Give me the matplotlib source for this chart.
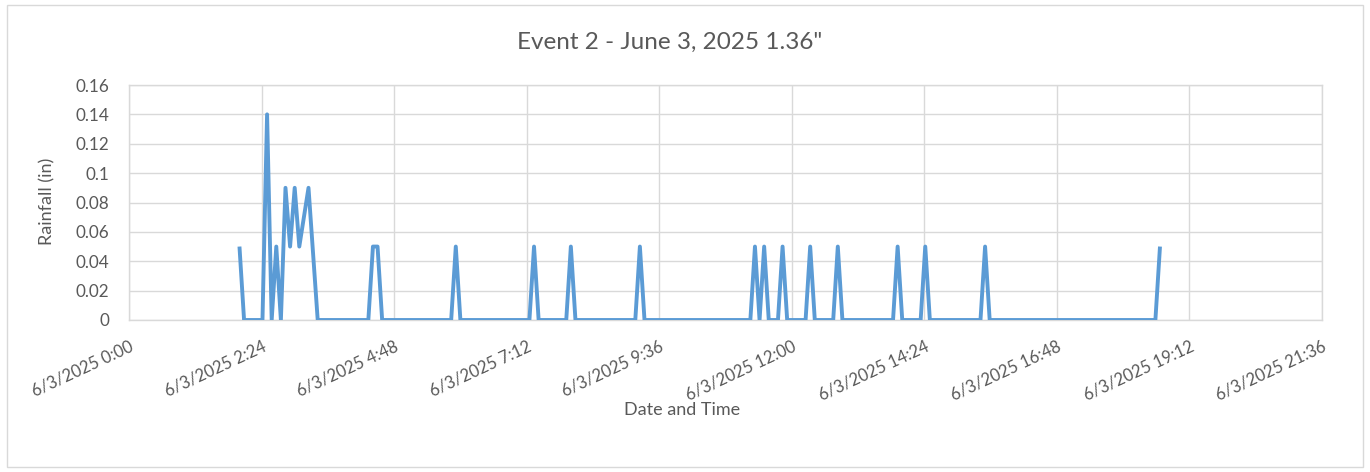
import matplotlib
matplotlib.use("Agg")
import matplotlib.pyplot as plt
from matplotlib.patches import Rectangle
import pandas as pd

# ---------------- data ----------------
date_str = "2025-06-03"
times = ["2:00", "2:05", "2:25", "2:30", "2:35", "2:40", "2:45", "2:50", "2:55",
         "3:00", "3:05", "3:15", "3:25", "4:20", "4:25", "4:30", "4:35", "5:50",
         "5:55", "6:00", "7:15", "7:20", "7:25", "7:55", "8:00", "8:05", "9:10",
         "9:15", "9:20", "11:15", "11:20", "11:25", "11:30", "11:35", "11:45",
         "11:50", "11:55", "12:15", "12:20", "12:25", "12:45", "12:50", "12:55",
         "13:50", "13:55", "14:00", "14:20", "14:25", "14:30", "15:25", "15:30",
         "15:35", "18:35", "18:40"]
rainfall = [0.05, 0, 0, 0.14, 0, 0.05, 0, 0.09, 0.05,
            0.09, 0.05, 0.09, 0, 0, 0.05, 0.05, 0, 0,
            0.05, 0, 0, 0.05, 0, 0, 0.05, 0, 0,
            0.05, 0, 0, 0.05, 0, 0.05, 0, 0,
            0.05, 0, 0, 0.05, 0, 0, 0.05, 0,
            0, 0.05, 0, 0, 0.05, 0, 0, 0.05,
            0, 0, 0.05]
x_tick_times = ["0:00", "2:24", "4:48", "7:12", "9:36", "12:00",
                "14:24", "16:48", "19:12", "21:36"]
x_tick_labels = ["6/3/2025 " + t for t in x_tick_times]
y_ticks = [0, 0.02, 0.04, 0.06, 0.08, 0.1, 0.12, 0.14, 0.16]
y_tick_labels = ["0", "0.02", "0.04", "0.06", "0.08", "0.1", "0.12", "0.14", "0.16"]
title = "Event 2 - June 3, 2025 1.36\""
x_title = "Date and Time"
y_title = "Rainfall (in)"

# ---------------- figure ----------------
plt.rcParams["font.family"] = ["Lato", "DejaVu Sans"]
txt = "#595959"
grid = "#D9D9D9"

W, H = 1370, 472
fig = plt.figure(figsize=(W / 100, H / 100), dpi=100)
fig.patch.set_facecolor("white")

# chart area border
fig.patches.append(Rectangle((7 / W, 5 / H), 1356 / W, 462 / H, transform=fig.transFigure,
                             fill=False, edgecolor=grid, lw=1.0))

left, right, top, bottom = 129, 1322, 85, 320
ax = fig.add_axes([left / W, (H - bottom) / H, (right - left) / W, (bottom - top) / H])

xt = pd.to_datetime([f"{date_str} {t}" for t in times])
ax.plot(xt, rainfall, color="#5B9BD5", lw=2.8, solid_joinstyle="round",
        solid_capstyle="butt", zorder=3)

tick_pos = pd.to_datetime([f"{date_str} {t}" for t in x_tick_times])
ax.set_xlim(tick_pos[0], tick_pos[-1])
ax.set_xticks(tick_pos)
ax.set_xticklabels(x_tick_labels)
ax.set_ylim(0, 0.16)
ax.set_yticks(y_ticks)
ax.set_yticklabels(y_tick_labels)

ax.grid(True, color=grid, lw=1.0, zorder=0)
ax.set_axisbelow(True)
for s in ax.spines.values():
    s.set_color(grid)
    s.set_linewidth(1.0)

ax.tick_params(axis="both", length=0, colors=txt, labelsize=12.3)
ax.tick_params(axis="x", labelsize=12)
ax.tick_params(axis="y", pad=14)
ax.tick_params(axis="x", pad=13)
for lab in ax.get_xticklabels():
    lab.set_rotation(25)
    lab.set_ha("right")
    lab.set_va("top")
    lab.set_rotation_mode("anchor")

fig.text(670 / W, 1 - 42 / H, title, ha="center", va="center", fontsize=17.5, color=txt)
fig.text(682 / W, 1 - 410 / H, x_title, ha="center", va="center", fontsize=13, color=txt)
fig.text(47 / W, 1 - 201 / H, y_title, ha="center", va="center", fontsize=13,
         color=txt, rotation=90)

fig.savefig("out.png", dpi=100, facecolor="white")
